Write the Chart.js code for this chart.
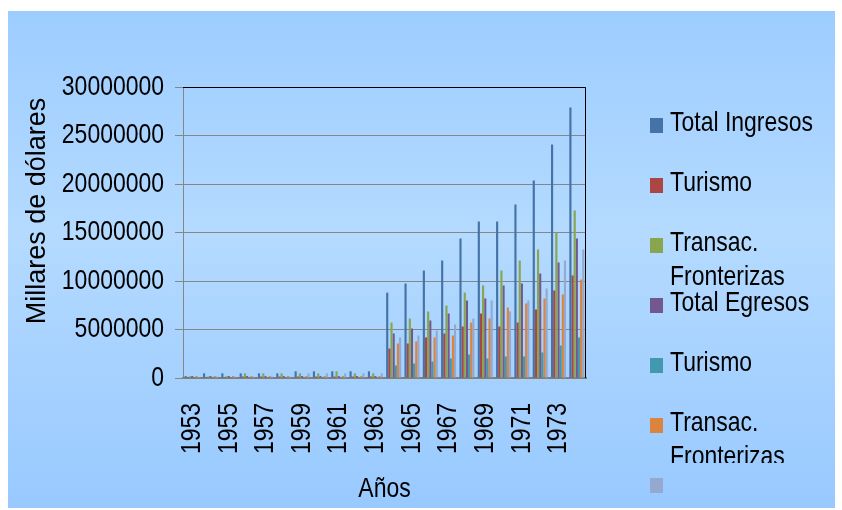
<!DOCTYPE html>
<html>
<head>
<meta charset="utf-8">
<script src="https://cdn.jsdelivr.net/npm/chart.js@4.4.0/dist/chart.umd.min.js"></script>
<style>
html, body { margin: 0; padding: 0; background: #fff; }
#wrap { width: 842px; height: 510px; }
</style>
</head>
<body>
<div id="wrap"><canvas id="canvass" width="842" height="510"></canvas></div>
<script>
// categories
var years = ['1953','1954','1955','1956','1957','1958','1959','1960','1961','1962','1963',
             '1964','1965','1966','1967','1968','1969','1970','1971','1972','1973','1974'];

// series (miles de dolares)
var totalIngresos  = [200000, 480000, 480000, 480000, 480000, 480000, 690000, 690000, 690000, 690000, 690000,
                      8800000, 9740000, 11080000, 12110000, 14380000, 16130000, 16130000, 17890000, 20360000, 24070000, 27890000];
var turismoIng     = [100000, 100000, 100000, 150000, 150000, 150000, 150000, 150000, 150000, 150000, 150000,
                      3040000, 3560000, 4180000, 4590000, 5310000, 6650000, 5310000, 5720000, 7060000, 9020000, 10570000];
var fronterasIng   = [170000, 170000, 200000, 480000, 480000, 480000, 480000, 480000, 690000, 480000, 480000,
                      5720000, 6130000, 6860000, 7470000, 8810000, 9540000, 11080000, 12110000, 13250000, 15000000, 17270000];
var totalEgresos   = [200000, 200000, 200000, 200000, 200000, 200000, 200000, 200000, 200000, 200000, 200000,
                      4590000, 5100000, 5930000, 6650000, 7990000, 8200000, 9540000, 9740000, 10770000, 11910000, 14380000];
var turismoEgr     = [50000, 50000, 50000, 50000, 50000, 50000, 50000, 50000, 50000, 50000, 50000,
                      1290000, 1490000, 1700000, 2010000, 2420000, 2010000, 2220000, 2220000, 2630000, 3350000, 4180000];
var fronterasEgr   = [200000, 200000, 200000, 200000, 200000, 200000, 200000, 200000, 200000, 200000, 200000,
                      3560000, 3760000, 4180000, 4380000, 5720000, 6130000, 7270000, 7680000, 8200000, 8610000, 10150000];
var otros          = [100000, 150000, 150000, 150000, 150000, 150000, 480000, 480000, 480000, 480000, 480000,
                      4180000, 4380000, 4900000, 5520000, 6130000, 7990000, 6860000, 7990000, 9230000, 12110000, 13250000];

var seriesNames = ['Total Ingresos', 'Turismo', 'Transac. Fronterizas', 'Total Egresos', 'Turismo', 'Transac. Fronterizas', ''];
var seriesColors = ['#4572A7', '#AA4643', '#89A54E', '#71588F', '#4198AF', '#DB843D', '#93A9CF'];
var yTicks = [0, 5000000, 10000000, 15000000, 20000000, 25000000, 30000000];

var xTitle = 'Años';
var yTitle = 'Millares de dólares';
var FONT = "'Liberation Sans', Arial, sans-serif";
var NARROW = 0.82;   // no narrow face installed, so squeeze the text along its baseline

var seriesValues = [totalIngresos, turismoIng, fronterasIng, totalEgresos, turismoEgr, fronterasEgr, otros];
var datasets = seriesValues.map(function (vals, i) {
    return {
        label: seriesNames[i],
        data: vals,
        backgroundColor: seriesColors[i],
        borderWidth: 0,
        categoryPercentage: 0.82,
        barPercentage: 1.0
    };
});

function narrowText(c) {
    var fill = c.fillText, measure = c.measureText;
    c.fillText = function (t, x, y, maxW) {
        this.save();
        this.translate(x, y);
        this.scale(NARROW, 1);
        if (maxW !== undefined) fill.call(this, t, 0, 0, maxW / NARROW);
        else fill.call(this, t, 0, 0);
        this.restore();
    };
    c.measureText = function (t) {
        var m = measure.call(this, t);
        return {
            width: m.width * NARROW,
            actualBoundingBoxAscent: m.actualBoundingBoxAscent,
            actualBoundingBoxDescent: m.actualBoundingBoxDescent,
            actualBoundingBoxLeft: m.actualBoundingBoxLeft * NARROW,
            actualBoundingBoxRight: m.actualBoundingBoxRight * NARROW
        };
    };
}

// background box, top/right frame, y title and the wrapped legend
var decor = {
    id: 'decor',
    beforeDraw: function (chart) {
        var c = chart.ctx;
        c.save();
        c.fillStyle = '#fff';
        c.fillRect(0, 0, chart.width, chart.height);
        var g = c.createLinearGradient(0, 11, 0, 508);
        g.addColorStop(0, '#9dcdff');
        g.addColorStop(0.45, '#b4daff');
        g.addColorStop(1, '#98c9ff');
        c.fillStyle = g;
        c.fillRect(8, 11, 827, 497);
        c.restore();
    },
    afterDraw: function (chart) {
        var a = chart.chartArea, c = chart.ctx;
        c.save();
        c.strokeStyle = '#000';
        c.lineWidth = 1;
        c.beginPath();
        c.moveTo(a.left, a.top + 0.5);
        c.lineTo(a.right - 0.5, a.top + 0.5);
        c.lineTo(a.right - 0.5, a.bottom);
        c.stroke();
        c.restore();

        // y axis title (regular width, not squeezed)
        c.save();
        c.translate(38, 211);
        c.rotate(-Math.PI / 2);
        c.scale(1 / NARROW, 1);
        c.font = '27px ' + FONT;
        c.fillStyle = '#000';
        c.textAlign = 'center';
        c.textBaseline = 'middle';
        c.fillText(yTitle, 0, 0);
        c.restore();

        // legend: swatches, then wrapped labels clipped at the box bottom
        c.save();
        c.font = '28px ' + FONT;
        c.textBaseline = 'middle';
        c.textAlign = 'left';
        chart.data.datasets.forEach(function (ds, i) {
            var cy = 125 + 60 * i;
            c.fillStyle = ds.backgroundColor;
            c.fillRect(650, cy - 7, 13, 15);
        });
        c.beginPath();
        c.rect(600, 0, 242, 463);
        c.clip();
        c.fillStyle = '#000';
        chart.data.datasets.forEach(function (ds, i) {
            var cy = 125 + 60 * i;
            var words = ds.label ? ds.label.split(' ') : [];
            var lines = [], cur = '';
            words.forEach(function (w) {
                var t = cur ? cur + ' ' + w : w;
                if (cur && c.measureText(t).width > 160) { lines.push(cur); cur = w; }
                else cur = t;
            });
            if (cur) lines.push(cur);
            lines.forEach(function (ln, k) {
                c.fillText(ln, 670, cy - 2 + 34 * k);
            });
        });
        c.restore();
    }
};

var ctx = document.getElementById('canvass').getContext('2d');
narrowText(ctx);
var chart = new Chart(ctx, {
    type: 'bar',
    data: { labels: years, datasets: datasets },
    options: {
        responsive: false,
        animation: false,
        devicePixelRatio: 1,
        layout: { padding: { left: 17, top: 87, right: 256, bottom: 2 } },
        plugins: {
            legend: { display: false },
            tooltip: { enabled: false }
        },
        scales: {
            x: {
                grid: { display: false, drawTicks: false },
                border: { display: true, color: '#7f7f7f', width: 2 },
                ticks: {
                    color: '#000',
                    font: { family: FONT, size: 28 },
                    minRotation: 90,
                    maxRotation: 90,
                    autoSkip: false,
                    padding: 25,
                    callback: function (val, i) { return i % 2 === 0 ? years[i] : ''; }
                },
                title: { display: true, text: xTitle, color: '#000', font: { family: FONT, size: 28 }, padding: { top: 0, bottom: 2 } },
                afterFit: function (s) { s.height = 130; }
            },
            y: {
                min: 0,
                max: 30000000,
                afterBuildTicks: function (s) { s.ticks = yTicks.map(function (v) { return { value: v }; }); },
                grid: { color: '#868686', lineWidth: 1, tickLength: 8 },
                border: { color: '#868686', width: 1 },
                ticks: {
                    color: '#000',
                    font: { family: FONT, size: 28 },
                    padding: 11,
                    callback: function (v) { return String(v); }
                },
                afterFit: function (s) { s.width = 166; }
            }
        }
    },
    plugins: [decor]
});
</script>
</body>
</html>
